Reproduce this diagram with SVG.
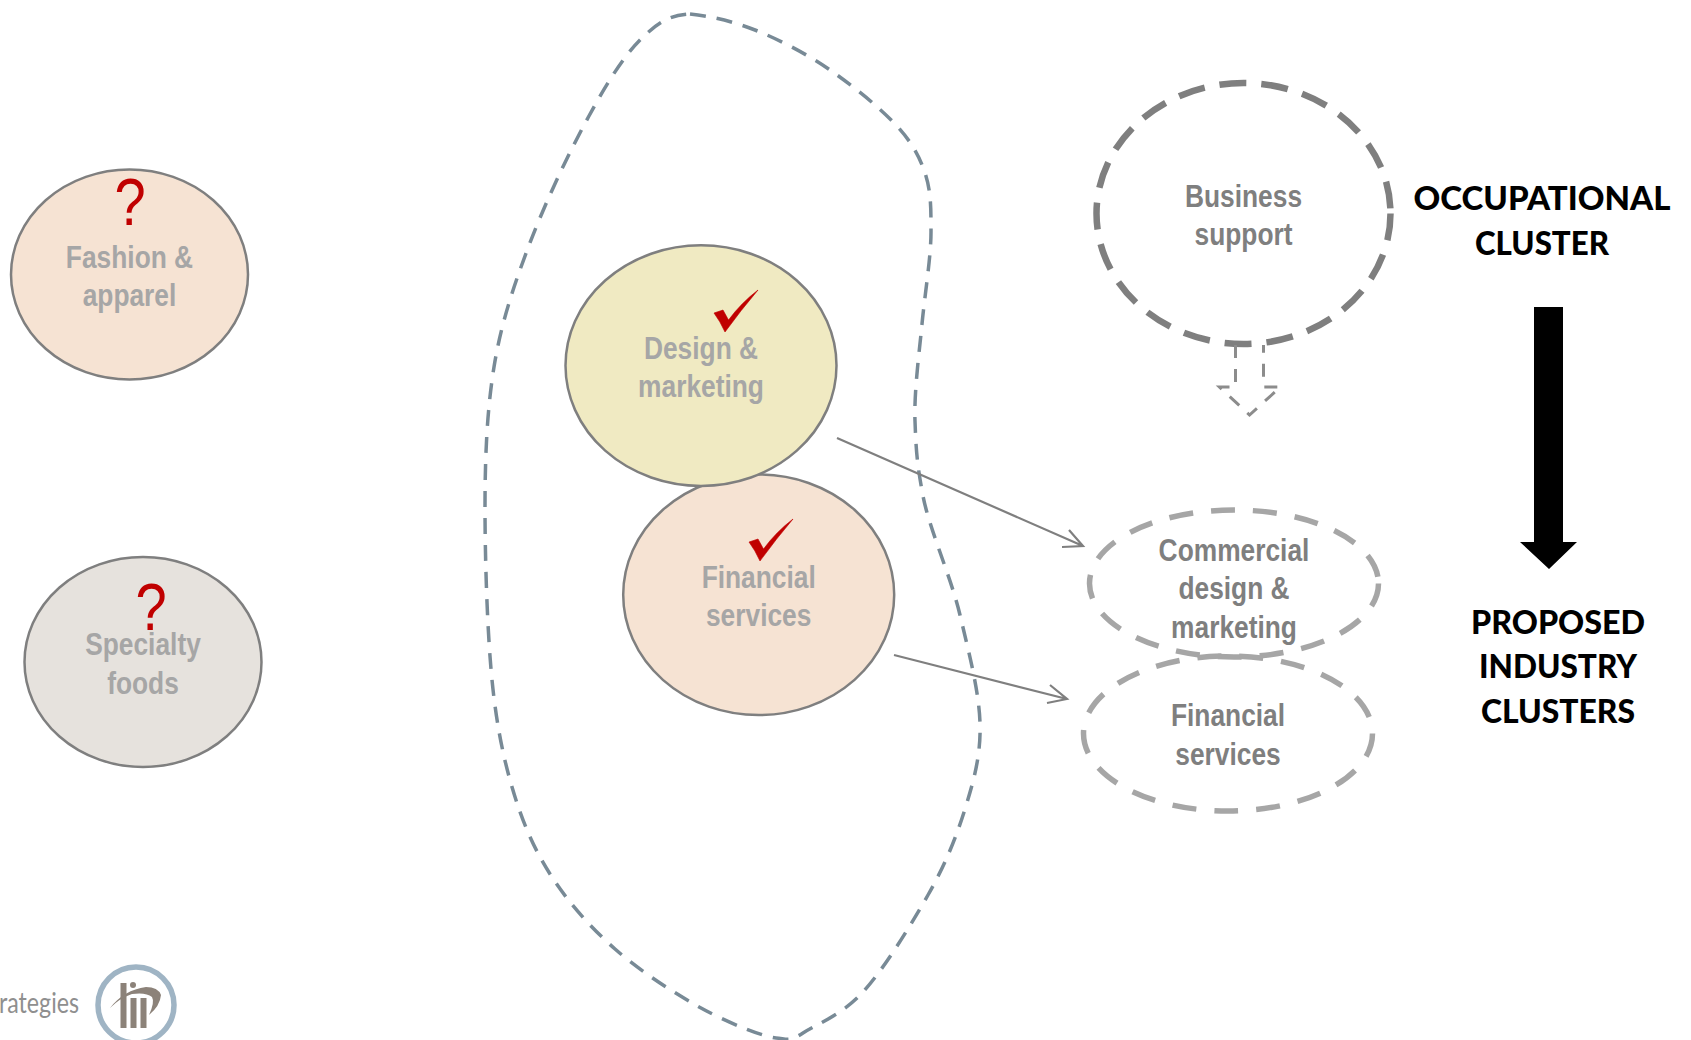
<svg xmlns="http://www.w3.org/2000/svg" xmlns:xlink="http://www.w3.org/1999/xlink" width="1691" height="1040" viewBox="0 0 1691 1040">
<style>
.solid{stroke:#7f7f7f;stroke-width:2.5}
.lbl{font-family:"Liberation Sans",Arial,sans-serif;font-weight:700;font-size:31px;text-anchor:middle;fill:#a6a6a6}
.lbl2{fill:#7f7f7f}
.head{font-family:Lato,"Open Sans",sans-serif;font-weight:900;font-size:33px;text-anchor:middle;fill:#000}
.q{font-family:"Liberation Sans",Arial,sans-serif;font-size:66px;text-anchor:middle;fill:#c00000}
.dash1{fill:none;stroke:#7f7f7f;stroke-width:6.5;stroke-dasharray:27 15}
.dash2{fill:none;stroke:#a6a6a6;stroke-width:5.5;stroke-dasharray:24 18}
.conn{fill:none;stroke:#7f7f7f;stroke-width:2.2}
</style>
<defs>
<path id="check" d="M714 313 L723 310 L728.5 320 Q741 303 758 290 Q741 310 725 332 Q720 321 714 313 Z" fill="#c00000" stroke="#c00000" stroke-width=".6"/>
</defs>
<g id="blob"><path d="M690 14 C710 16 732 21 755 30 S807 54 830 70 S879 107 895 124 S919 155 925 173 S931 207 931 232 S925 293 922 324 S914 392 915 421 S917 464 923 496 S951 577 960 615 S979 691 980 723 S974 780 965 809 S945 865 928 895 S884 969 863 992 S817 1024 803 1033 S788 1039 776 1038 S728 1023 701 1008 S640 971 615 949 S567 901 550 874 S522 821 512 787 S495 716 491 669 S485 557 485 507 S487 410 494 367 S513 288 528 248 S564 163 582 129 S620 60 640 40 S672 15 690 14 Z" fill="none" stroke="#788a96" stroke-width="3.5" stroke-dasharray="16 11"/></g>
<g id="fashion"><ellipse cx="129.5" cy="274.5" rx="118.5" ry="105" fill="#f6e3d3" class="solid"/>
<text class="q" transform="translate(130 225) scale(.85 1)">?</text>
<text class="lbl" transform="translate(129.5 268) scale(.85 1)">Fashion &amp;</text>
<text class="lbl" transform="translate(129.5 306) scale(.85 1)">apparel</text></g>
<g id="specialty"><ellipse cx="143" cy="662" rx="118.5" ry="105" fill="#e6e2dd" class="solid"/>
<text class="q" transform="translate(151 630) scale(.85 1)">?</text>
<text class="lbl" transform="translate(143 655) scale(.85 1)">Specialty</text>
<text class="lbl" transform="translate(143 694) scale(.85 1)">foods</text></g>
<g id="financial"><ellipse cx="758.7" cy="594.8" rx="135.5" ry="120.3" fill="#f6e3d3" class="solid"/>
<use xlink:href="#check" href="#check" transform="translate(35 229)"/>
<text class="lbl" transform="translate(758.7 588) scale(.85 1)">Financial</text>
<text class="lbl" transform="translate(758.7 626) scale(.85 1)">services</text></g>
<g id="design"><ellipse cx="701" cy="365.6" rx="135.5" ry="120.3" fill="#f0eac2" class="solid"/>
<use xlink:href="#check" href="#check"/>
<text class="lbl" transform="translate(701 359) scale(.85 1)">Design &amp;</text>
<text class="lbl" transform="translate(701 397) scale(.85 1)">marketing</text></g>
<g id="business"><ellipse cx="1243.5" cy="213.5" rx="147" ry="130.5" class="dash1"/>
<text class="lbl lbl2" transform="translate(1243.5 207) scale(.85 1)">Business</text>
<text class="lbl lbl2" transform="translate(1243.5 245) scale(.85 1)">support</text></g>
<g id="commercial"><ellipse cx="1234" cy="583.5" rx="144.5" ry="73.5" class="dash2"/>
<text class="lbl lbl2" transform="translate(1234 561) scale(.85 1)">Commercial</text>
<text class="lbl lbl2" transform="translate(1234 599) scale(.85 1)">design &amp;</text>
<text class="lbl lbl2" transform="translate(1234 638) scale(.85 1)">marketing</text></g>
<g id="financial-services"><ellipse cx="1228" cy="733.5" rx="144.5" ry="77.5" class="dash2"/>
<text class="lbl lbl2" transform="translate(1228 726) scale(.85 1)">Financial</text>
<text class="lbl lbl2" transform="translate(1228 765) scale(.85 1)">services</text></g>
<g id="occupational-label"><text class="head" x="1542" y="210">OCCUPATIONAL</text><text class="head" x="1542" y="255" textLength="134" lengthAdjust="spacingAndGlyphs">CLUSTER</text></g>
<g id="proposed-label"><text class="head" x="1558" y="634" textLength="174" lengthAdjust="spacingAndGlyphs">PROPOSED</text><text class="head" x="1558" y="678" textLength="158" lengthAdjust="spacingAndGlyphs">INDUSTRY</text><text class="head" x="1558" y="723" textLength="154" lengthAdjust="spacingAndGlyphs">CLUSTERS</text></g>
<g id="connectors">
<path class="conn" d="M837 438 L1083 546 M1062 547 L1083 546 L1069 530"/>
<path class="conn" d="M894 655 L1067 699 M1047 703 L1067 699 L1050 685"/>
<path d="M1233 345 V387 H1217 L1247 415 L1278 387 H1261 V345" transform="translate(2.5 0)" fill="none" stroke="#8c8c8c" stroke-width="3" stroke-dasharray="13 11"/>
<path d="M1534 307 H1563 V542 H1577 L1549 569 L1520 542 H1534 Z" fill="#000"/>
</g>
<g id="logo">
<text x="-1" y="1013" font-family="Lato,'Open Sans',sans-serif" font-weight="400" font-size="29" fill="#8f8f8f" textLength="80" lengthAdjust="spacingAndGlyphs">rategies</text>
<circle cx="136" cy="1005" r="38" fill="none" stroke="#9fb4c4" stroke-width="5.5"/>
<g fill="#8c8279"><rect x="120.500" y="983" width="6" height="45"/><rect x="130.500" y="998" width="6" height="30"/><rect x="140.500" y="998" width="6" height="30"/><circle cx="133" cy="985" r="3"/>
<path d="M110 1008 Q124 990 146 987 Q158 987 161 995 Q160 1006 149 1015 Q155 1002 152 997 Q146 992 132 994 Q120 998 110 1008 Z"/></g>
</g>
</svg>
